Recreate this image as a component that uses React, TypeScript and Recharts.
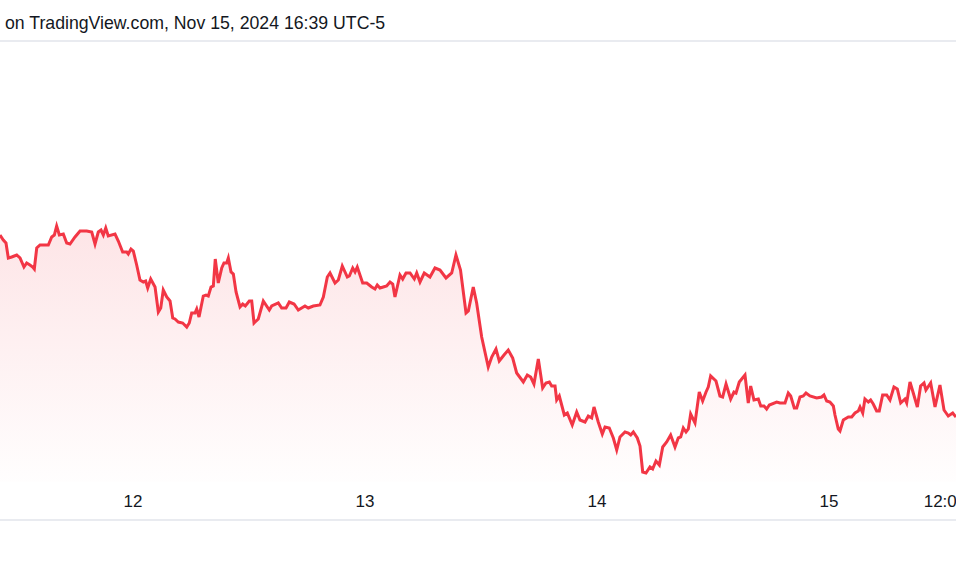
import { AreaChart, Area, XAxis, YAxis } from "recharts";

// hours from Nov 12 00:00 (UTC-5)
const hours = [
  -13.76, -13.42, -13.14, -12.9, -12.55, -12.03, -11.69, -11.28, -11.0, -10.66,
  -10.38, -10.21, -9.96, -9.62, -8.76, -8.41, -8.14, -7.9, -7.62, -7.21,
  -6.86, -6.52, -6.0, -5.48, -4.79, -4.27, -3.93, -3.59, -3.31, -3.07,
  -2.82, -2.56, -1.86, -1.52, -1.07, -0.65, -0.49, -0.21, 0.03, 0.38,
  0.72, 1.07, 1.31, 1.52, 1.83, 2.28, 2.62, 2.87, 3.13, 3.49,
  3.83, 4.11, 4.34, 4.69, 5.14, 5.56, 5.82, 6.07, 6.41, 6.59,
  6.83, 7.27, 7.55, 7.79, 8.07, 8.31, 8.51, 8.82, 9.18, 9.41,
  9.69, 9.86, 10.14, 10.38, 10.66, 11.07, 11.35, 11.62, 12.03, 12.28,
  12.52, 12.96, 13.48, 14.1, 14.35, 15.03, 15.38, 15.83, 16.17, 16.66,
  17.1, 17.79, 18.13, 18.65, 19.34, 19.69, 20.1, 20.38, 20.9, 21.24,
  21.65, 22.17, 22.38, 22.73, 22.97, 23.2, 23.76, 24.18, 24.69, 25.03,
  25.27, 25.55, 25.89, 26.24, 26.59, 26.87, 27.1, 27.62, 27.9, 28.24,
  28.66, 29.1, 29.35, 29.69, 30.13, 30.72, 31.24, 31.76, 32.38, 32.97,
  33.41, 33.88, 34.45, 34.69, 35.2, 35.55, 36.07, 36.75, 37.11, 37.55,
  37.89, 38.38, 38.82, 39.28, 39.69, 40.38, 40.79, 41.14, 41.48, 41.93,
  42.38, 42.72, 43.07, 43.31, 43.66, 43.83, 44.1, 44.62, 44.93, 45.44,
  45.9, 46.24, 46.76, 47.1, 47.45, 47.69, 48.13, 48.55, 48.83, 49.27,
  49.69, 50.04, 50.38, 50.9, 51.24, 51.49, 51.76, 52.17, 52.45, 52.73,
  53.07, 53.48, 53.76, 54.1, 54.45, 54.8, 55.21, 55.62, 56.07, 56.41,
  56.66, 56.93, 57.21, 57.45, 57.69, 58.14, 58.58, 58.93, 59.28, 59.51,
  59.76, 60.31, 60.72, 61.0, 61.35, 61.83, 62.17, 62.38, 62.72, 63.31,
  63.65, 63.9, 64.24, 64.69, 64.94, 65.28, 65.55, 65.83, 66.59, 66.93,
  67.45, 67.79, 68.04, 68.41, 68.66, 69.0, 69.34, 69.62, 70.03, 70.73,
  71.24, 71.48, 71.76, 72.1, 72.45, 72.62, 72.96, 73.14, 73.48, 74.0,
  74.35, 74.69, 75.03, 75.21, 75.49, 75.72, 76.07, 76.31, 76.58, 76.93,
  77.2, 77.55, 77.97, 78.31, 78.72, 79.07, 79.42, 79.86, 80.04, 80.38,
  80.72, 81.14, 81.48, 81.83, 82.03, 82.52, 82.97, 83.48, 83.9, 84.34,
  84.8, 85.14,
];

const prices = [
  247, 242, 239, 224, 225, 227, 224, 215, 219, 217,
  215, 213, 234, 237, 237, 245, 247, 256, 247, 248,
  239, 238, 245, 251, 251, 250, 238, 250, 252, 247,
  254, 246, 248, 241, 230, 230, 228, 233, 231, 217,
  202, 200, 201, 194, 203, 195, 170, 174, 192, 185,
  181, 164, 163, 160, 159, 155, 159, 169, 169, 173,
  165, 186, 187, 186, 195, 196, 223, 199, 214, 219,
  219, 224, 210, 208, 190, 175, 178, 176, 181, 181,
  159, 163, 181, 172, 176, 179, 174, 174, 180, 178,
  172, 176, 174, 176, 177, 185, 205, 209, 199, 202,
  216, 205, 206, 214, 210, 215, 199, 199, 195, 193,
  197, 194, 195, 196, 200, 198, 185, 207, 203, 209,
  209, 203, 209, 200, 209, 205, 214, 212, 204, 209,
  227, 212, 169, 171, 195, 179, 145, 115, 125, 133,
  121, 127, 132, 124, 109, 100, 107, 105, 98, 123,
  94, 99, 100, 96, 96, 82, 86, 67, 69, 57,
  70, 62, 60, 66, 64, 75, 60, 48, 55, 54,
  44, 32, 45, 50, 49, 47, 50, 44, 36, 10,
  9, 15, 13, 21, 17, 35, 40, 47, 35, 44,
  45, 54, 50, 53, 68, 59, 90, 81, 90, 95,
  106, 101, 86, 85, 98, 83, 90, 89, 100, 107,
  79, 96, 82, 83, 76, 76, 73, 77, 80, 79,
  79, 89, 86, 74, 74, 85, 86, 89, 86, 84,
  85, 87, 81, 80, 76, 67, 53, 51, 62, 65,
  65, 69, 71, 75, 69, 83, 80, 82, 78, 71,
  71, 87, 87, 82, 95, 93, 79, 83, 79, 100,
  89, 75, 96, 99, 92, 99, 75, 97, 72, 66,
  69, 65,
];

const tickHours = [0, 24, 48, 72, 84];
const tickLabels = ["12", "13", "14", "15", "12:00"];

const data = hours.map((h, i) => ({ h, price: prices[i] }));

const FONT = "'Liberation Sans', Arial, sans-serif";

function TimeTick({ x, payload }: any) {
  const idx = tickHours.indexOf(payload.value);
  return (
    <text
      x={x}
      y={507}
      textAnchor="middle"
      fontFamily={FONT}
      fontSize={17}
      fill="#131722"
    >
      {tickLabels[idx]}
    </text>
  );
}

export default function App() {
  return (
    <div
      style={{
        position: "fixed",
        left: 0,
        top: 0,
        width: 956,
        height: 574,
        background: "#fff",
        overflow: "hidden",
      }}
    >
      <svg
        width={956}
        height={574}
        style={{ position: "absolute", left: 0, top: 0 }}
      >
        <text x={5} y={29} fontFamily={FONT} fontSize={17.7} fill="#131722">
          on TradingView.com, Nov 15, 2024 16:39 UTC-5
        </text>
        <rect x={0} y={40} width={956} height={2} fill="#e9ebf0" />
        <rect x={0} y={519} width={956} height={2} fill="#e9ebf0" />
      </svg>
      <div style={{ position: "absolute", left: 0, top: 0 }}>
        <AreaChart
          width={956}
          height={574}
          data={data}
          margin={{ top: 41, right: 0, bottom: 62, left: 0 }}
        >
          <defs>
            <linearGradient id="redFill" x1="0" y1="0" x2="0" y2="1">
              <stop offset="0%" stopColor="#f23645" stopOpacity={0.22} />
              <stop offset="100%" stopColor="#f23645" stopOpacity={0.01} />
            </linearGradient>
          </defs>
          <XAxis
            dataKey="h"
            type="number"
            domain={[-13.76, 85.14]}
            ticks={tickHours}
            interval={0}
            height={30}
            axisLine={false}
            tickLine={false}
            tick={<TimeTick />}
            allowDataOverflow
          />
          <YAxis hide domain={[0, 441]} allowDataOverflow />
          <Area
            type="linear"
            dataKey="price"
            stroke="#f23645"
            strokeWidth={3}
            fill="url(#redFill)"
            isAnimationActive={false}
            dot={false}
            activeDot={false}
          />
        </AreaChart>
      </div>
    </div>
  );
}
